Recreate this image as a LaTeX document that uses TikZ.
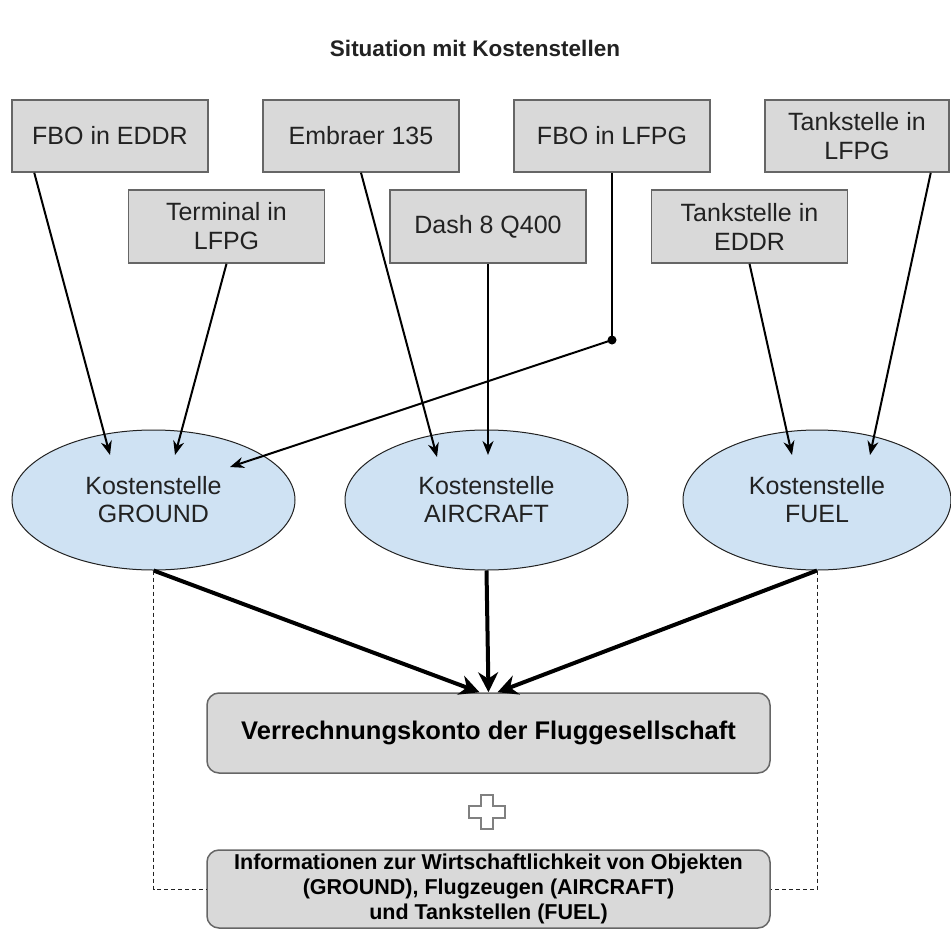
\documentclass[tikz,border=0pt]{standalone}
\usepackage{fontspec}
\setmainfont{Liberation Sans}
\usetikzlibrary{shapes,arrows.meta}
\definecolor{boxgray}{RGB}{217,217,217}
\definecolor{rimgray}{RGB}{102,102,102}
\definecolor{centreblue}{RGB}{207,226,243}
\definecolor{inkgray}{RGB}{34,34,34}
\tikzset{
  source/.style={draw=rimgray,line width=1.5pt,fill=boxgray,minimum width=196pt,minimum height=72pt,inner sep=0pt,align=center,text=inkgray,font=\fontsize{25}{29}\selectfont},
  centre/.style={ellipse,draw=inkgray,line width=1pt,fill=centreblue,minimum width=283pt,minimum height=140pt,inner sep=0pt,align=center,text=inkgray,font=\fontsize{25}{28}\selectfont},
  account/.style={draw=rimgray,line width=1.5pt,fill=boxgray,rounded corners=12pt,minimum width=563pt,inner sep=0pt,align=center,text=black},
  feed/.style={line width=2pt,-{Stealth[length=14pt,width=11pt]}},
  book/.style={line width=4pt,-{Stealth[length=20pt,width=20pt]}},
  trace/.style={draw=inkgray,line width=1pt,dash pattern=on 4pt off 3pt}
}
\begin{document}
\begin{tikzpicture}[x=1pt,y=-1pt]
\useasboundingbox (0,0) rectangle (951,929);
\node[font=\bfseries\fontsize{22.5}{26}\selectfont,text=inkgray] (title) at (475,48) {Situation mit Kostenstellen};
\node[source] (eddr) at (110,136) {FBO in EDDR};
\node[source] (embraer) at (361,136) {Embraer 135};
\node[source] (lfpg) at (612,136) {FBO in LFPG};
\node[source,minimum width=184pt] (tanklfpg) at (857,136) {Tankstelle in\\LFPG};
\node[source,minimum height=73pt] (terminal) at (226.5,226.5) {Terminal in\\LFPG};
\node[source,minimum height=73pt] (dash) at (488,226.5) {Dash 8 Q400};
\node[source,minimum height=73pt] (tankeddr) at (749.5,226.5) {Tankstelle in\\EDDR};
\node[centre] (ground) at (153.5,500) {Kostenstelle\\GROUND};
\node[centre] (aircraft) at (486.5,500) {Kostenstelle\\AIRCRAFT};
\node[centre,minimum width=268pt] (fuel) at (817,500) {Kostenstelle\\FUEL};
\node[account,minimum height=80pt,font=\bfseries\fontsize{25.5}{29}\selectfont] (konto) at (488.5,733) {Verrechnungskonto der Fluggesellschaft};
\node[account,minimum height=78pt,font=\bfseries\fontsize{21.5}{25}\selectfont] (info) at (488.5,889) {Informationen zur Wirtschaftlichkeit von Objekten\\(GROUND), Flugzeugen (AIRCRAFT)\\und Tankstellen (FUEL)};
\coordinate (knot) at (612,340);
\draw[feed] ([xshift=23pt]eddr.south west) -- ([shift={(-43.5,-45)}]ground.center);
\draw[feed] (terminal.south) -- ([shift={(21.5,-45)}]ground.center);
\draw[line width=2pt] (lfpg.south) -- (knot);
\draw[feed] (knot) -- ([shift={(76.5,-33)}]ground.center);
\fill (knot) circle (4.5pt);
\draw[feed] (embraer.south) -- ([shift={(-49.5,-43)}]aircraft.center);
\draw[feed] (dash.south) -- ([shift={(1.5,-45)}]aircraft.center);
\draw[feed] (tankeddr.south) -- ([shift={(-25,-45)}]fuel.center);
\draw[feed] ([xshift=-19pt]tanklfpg.south east) -- ([shift={(53,-45)}]fuel.center);
\draw[book] (ground.south) -- ([xshift=-9pt]konto.north);
\draw[book] (aircraft.south) -- (konto.north);
\draw[book] (fuel.south) -- ([xshift=9pt]konto.north);
\draw[trace] (ground.south) |- (info.west);
\draw[trace] (fuel.south) |- (info.east);
\draw[draw=gray,line width=1.5pt,fill=white,shift={(487,812)}] (-6,-17) -- (6,-17) -- (6,-6) -- (18,-6) -- (18,6) -- (6,6) -- (6,17) -- (-6,17) -- (-6,6) -- (-18,6) -- (-18,-6) -- (-6,-6) -- cycle;
\end{tikzpicture}
\end{document}
